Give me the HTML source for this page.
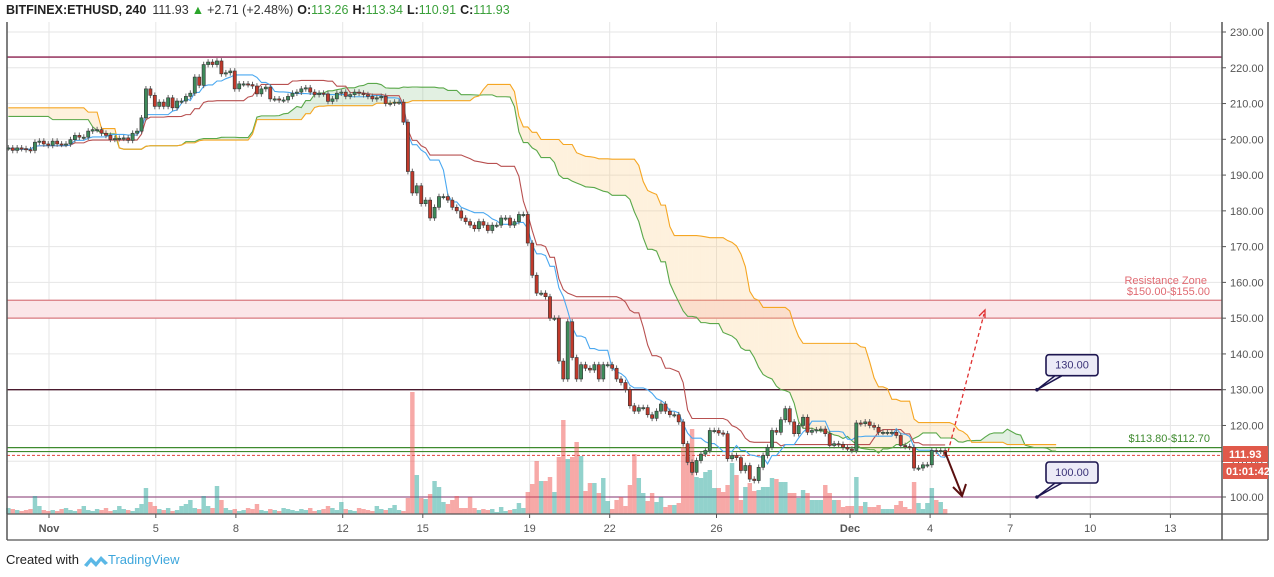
<!DOCTYPE html>
<html><head><meta charset="utf-8">
<style>
html,body{margin:0;padding:0;background:#fff;}
body{width:1274px;height:577px;overflow:hidden;font-family:"Liberation Sans",sans-serif;position:relative;}
svg{position:absolute;left:0;top:0;}
</style></head>
<body>
<svg id="chart" width="1274" height="577" viewBox="0 0 1274 577">
  <rect x="0" y="0" width="1274" height="577" fill="#fff"/>
  <g id="grid"></g>
  <g id="levels"></g>
  <g id="cloud"></g>
  <g id="volume"></g>
  <g id="lines"></g>
  <g id="candles"></g>
  <g id="annot"></g>
  <g id="axes"></g>
  <text x="6" y="14" font-size="12.5"><tspan font-weight="bold" fill="#222">BITFINEX:ETHUSD, 240</tspan><tspan fill="#333" dx="6">111.93</tspan><tspan fill="#2aa52a" dx="3">▲</tspan><tspan fill="#333" dx="3">+2.71 (+2.48%)</tspan><tspan fill="#222" dx="4" font-weight="bold">O:</tspan><tspan fill="#3aa03a">113.26</tspan><tspan fill="#222" dx="4" font-weight="bold">H:</tspan><tspan fill="#3aa03a">113.34</tspan><tspan fill="#222" dx="4" font-weight="bold">L:</tspan><tspan fill="#3aa03a">110.91</tspan><tspan fill="#222" dx="4" font-weight="bold">C:</tspan><tspan fill="#3aa03a">111.93</tspan></text>
  <g>
    <text x="6" y="564" font-size="13" fill="#222">Created with</text>
    <path d="M84 565 l7 -8 l5 5 l5 -6 l7 7 l-3 2 l-4 -4 l-5 6 l-5 -5 l-4 5 z" fill="#5bb8e6"/>
    <text x="108" y="564" font-size="13" fill="#3ca6dc">TradingView</text>
  </g>
</svg>
<script>
const closes = [
197.6,196.9,197.6,197.4,197.1,196.9,199.2,199.5,198.7,198.3,
199.5,198.7,198.6,198.7,199.9,201.1,200.6,200.6,202.3,202.7,
202.7,201.7,201.1,200,200.2,200.3,200.4,199.7,201.7,202.3,
206,214.1,212.3,209.2,210.4,209.2,211.6,208.8,210.7,210.7,
212,212.9,217.4,215.1,220.9,221.6,220.9,221.9,218.3,218.6,
219.1,214.1,215.5,215.5,215.3,214.9,212.7,214.1,214.6,211.3,
211.3,211,211,212,212.9,213.2,214.1,214.4,213.2,212.5,
212.9,212.7,210.6,211.3,212.9,213.2,212,212.5,213.2,212.9,
212.5,212,211.3,211.6,212,210,210.1,210.4,210.4,204.8,
191,185,187,182,183,178,181,184,184,183,
181,180,178,177,176,175,177,176,174.5,176,
176,178,178,176,177,179,179,171,162,157,
157,156,150,150,138,133,149,139,133,137,
136,135.5,137,133,137,137,136,133,132,130,
125.5,124,125,125,123,122,124,126,124,123,
123,121,
114.9,109.7,106.9,110.2,112,113,118.6,118.6,117.9,117.7,
110.7,111.6,111,107.4,108.8,105,104.6,108.3,111.6,113.9,
118.6,118.1,121.6,124.7,121,117.7,120,122.3,118.1,118.6,
118.8,119,117.7,114.4,114.9,114.7,113.9,113.4,113,120.7,
120.5,121,120,119.5,118.1,118.1,118.1,118.1,117.2,114.4,
114.1,113.9,108.1,108.1,109,109,113,112.8,113,111.93];
const volumes = [
6,5,4,3,4,5,18,8,4,3, 4,3,5,6,4,3,5,8,4,3, 5,4,6,3,4,8,5,4,3,6,
10,26,12,8,5,4,6,3,4,8, 10,14,6,5,18,8,6,28,14,6, 4,5,3,4,6,5,10,4,3,5,
4,3,6,5,4,3,5,4,6,3, 4,5,8,6,4,12,5,4,3,6, 5,4,3,8,5,4,6,
9,4,3,16,122,39,16,15,20,33, 27,12,10,14,18,6,6,17,6,4,
5,4,5,2,7,3,4,5,11,6, 22,30,53,33,33,37,22,57,94,55,
57,72,58,23,31,31,21,36,13,5, 14,17,8,29,60,36,21,13,21,12,
17,7,9,9,11,
67,57,85,37,36,42,44,26,26,22, 29,51,39,14,27,31,23,24,27,27,
36,35,32,32,21,21,16,24,21,14, 14,14,29,21,14,14,7,8,8,37,
8,12,7,7,9,5,5,5,9,13, 7,5,32,11,5,11,26,14,12,5];
// cloud values already projected onto the first visible candles (from earlier history)
const spanAHead = [206.4,206.4,206.4,206.4,206.4,206.4,206.4,206.4,206.4,206.4,205.5,205.5,205.5,205.5,205.5,205.5,205.5,205.5,205.5,203.5,202.5,201.8,201.5,201.5,201.5];
const spanBHead = [208.8,208.8,208.8,208.8,208.8,208.8,208.8,208.8,208.8,208.8,208.8,208.8,208.8,208.8,208.8,208.8,208.8,208.8,207.6,207.6,207.6,203,203,203,203];
const priceTicks = [100,110,120,130,140,150,160,170,180,190,200,210,220,230];
const dateLabels = ["Nov","5","8","12","15","19","22","26","Dec","4","7","10","13"];
const dateDays = [1,5,8,12,15,19,22,26,31,34,37,40,43];
const levelResistance = [150,155];
const levelSupport = [112.7,113.8];
const levelKeys = [223,130,100];
const lastPrice = 111.93;

const NS="http://www.w3.org/2000/svg";
const L=7, R=1222, T=22, B=514;
const yOf = p => 32 + (230-p)*3.577;
const xOfIdx = i => 8.3 + i*4.44;
const xOfDay = d => 49 + (d-1)*26.7;
function mk(tag, parent, attrs){const e=document.createElementNS(NS,tag);for(const k in attrs)e.setAttribute(k,attrs[k]);parent.appendChild(e);return e;}
const G=id=>document.getElementById(id);

const grid=G('grid');
priceTicks.forEach(p=>{const l=mk('line',grid,{x1:L,x2:R,y1:yOf(p),y2:yOf(p),stroke:'#e6e6e6','stroke-width':1});

});
dateDays.forEach(d=>{const l=mk('line',grid,{x1:xOfDay(d),x2:xOfDay(d),y1:T,y2:B,stroke:'#e6e6e6','stroke-width':1});

});

const lv=G('levels');
const rz=mk('rect',lv,{x:L,y:yOf(levelResistance[1]),width:R-L,height:yOf(levelResistance[0])-yOf(levelResistance[1]),fill:'#fbe6e8'});


levelResistance.forEach(p=>{mk('line',lv,{x1:L,x2:R,y1:yOf(p),y2:yOf(p),stroke:'#d97a80','stroke-width':1.2});});
const keyColors=['#8a1f4d','#4a1a2e','#9a5a8a'];
levelKeys.forEach((p,k)=>{const l=mk('line',lv,{x1:L,x2:R,y1:yOf(p),y2:yOf(p),stroke:keyColors[k],'stroke-width':1.3});

});
levelSupport.forEach(p=>{const l=mk('line',lv,{x1:L,x2:R,y1:yOf(p),y2:yOf(p),stroke:'#3e8a2e','stroke-width':1.2});

});
const pl=mk('line',lv,{x1:L,x2:R,y1:yOf(lastPrice)+1,y2:yOf(lastPrice)+1,stroke:'#e0443a','stroke-width':1,'stroke-dasharray':'3,2'});



const n=closes.length;
const opens=closes.map((c,i)=>i===0?c:closes[i-1]);
const highs=closes.map((c,i)=>Math.max(c,opens[i])+0.8);
const lows=closes.map((c,i)=>Math.min(c,opens[i])-0.8);
function mid(i,len){let h=-1e9,l=1e9;for(let j=Math.max(0,i-len+1);j<=i;j++){h=Math.max(h,highs[j]);l=Math.min(l,lows[j]);}return (h+l)/2;}
const tenkan=closes.map((c,i)=>mid(i,9));
const kijun=closes.map((c,i)=>mid(i,26));
const shift=25;
const spanA=[],spanB=[];
for(let i=0;i<shift;i++){spanA[i]=spanAHead[i];spanB[i]=spanBHead[i];}
for(let i=0;i<n;i++){spanA[i+shift]=(tenkan[i]+kijun[i])/2;spanB[i+shift]=mid(i,52);}

const cl=G('cloud');
for(let i=0;i<n+shift-1;i++){
  const a0=spanA[i],a1=spanA[i+1],b0=spanB[i],b1=spanB[i+1];
  const bear=(b0+b1)>(a0+a1);
  const pg=mk('polygon',cl,{points:`${xOfIdx(i)},${yOf(a0)} ${xOfIdx(i+1)},${yOf(a1)} ${xOfIdx(i+1)},${yOf(b1)} ${xOfIdx(i)},${yOf(b0)}`,fill:bear?'rgba(252,200,120,0.25)':'rgba(110,180,110,0.2)',stroke:'none'});
  
  
}
function poly(arr,start,end,color,name){let pts=[];for(let i=start;i<end;i++)if(arr[i]!==undefined)pts.push(xOfIdx(i)+','+yOf(arr[i]));
const p=mk('polyline',G('lines'),{points:pts.join(' '),fill:'none',stroke:color,'stroke-width':1.1});

}
poly(spanA,0,n+shift,'#5aa84a','senkou-span-a');
poly(spanB,0,n+shift,'#f5a623','senkou-span-b');
poly(kijun,0,n,'#b85050','kijun-sen');
poly(tenkan,0,n,'#4aa8f0','tenkan-sen');

const vg=G('volume'), cg=G('candles');
for(let i=0;i<n;i++){
  const x=xOfIdx(i), up=closes[i]>=opens[i];
  const vb=mk('rect',vg,{x:x-2.2,y:B-volumes[i],width:4.44,height:volumes[i],fill:up?'rgba(38,166,154,0.5)':'rgba(239,83,80,0.5)'});
  
  
  const w=mk('line',cg,{x1:x,x2:x,y1:yOf(highs[i]),y2:yOf(lows[i]),stroke:'#666','stroke-width':1});
  
  
  const top=yOf(Math.max(opens[i],closes[i])), bot=yOf(Math.min(opens[i],closes[i]));
  const body=mk('rect',cg,{x:x-1.6,y:top,width:3.2,height:Math.max(1.2,bot-top),fill:up?'#3d8a5a':'#c0392b',stroke:'#333','stroke-width':0.6});
  
  
}

const an=G('annot');
function callout(p,label){
  const g=mk('g',an,{});
  
  
  const y=yOf(p);
  mk('polygon',g,{points:`1037,${y} 1055,${y-14} 1062,${y-14}`,fill:'#ecebf7',stroke:'#1d1650','stroke-width':1.5});
  mk('rect',g,{x:1046,y:y-35,width:52,height:21,rx:3,fill:'#ecebf7',stroke:'#1d1650','stroke-width':1.6});
  mk('circle',g,{cx:1037,cy:y,r:1.8,fill:'#1d1650'});
  const t=mk('text',g,{x:1072,y:y-21,'font-size':11,fill:'#3a3278','text-anchor':'middle'});t.textContent=label;
}
callout(130,'130.00');callout(100,'100.00');
const rt=mk('text',an,{x:1207,y:284,'font-size':11,fill:'#e06a72','text-anchor':'end'});rt.textContent='Resistance Zone';


const rt2=mk('text',an,{x:1210,y:295,'font-size':11,fill:'#e06a72','text-anchor':'end'});rt2.textContent='$150.00-$155.00';


const st=mk('text',an,{x:1210,y:442,'font-size':11,fill:'#3e8a2e','text-anchor':'end'});st.textContent='$113.80-$112.70';


const a1=mk('line',an,{x1:948,y1:452,x2:984,y2:314,stroke:'#e03030','stroke-width':1.3,'stroke-dasharray':'4,3'});


mk('polyline',an,{points:'979,316 985,310 985,318',fill:'none',stroke:'#e03030','stroke-width':1.3});
const a2=mk('line',an,{x1:945,y1:452,x2:962,y2:495,stroke:'#5a1010','stroke-width':2});


mk('polyline',an,{points:'953,487 962,496 966,484',fill:'none',stroke:'#5a1010','stroke-width':2});

const ax=G('axes');
mk('rect',ax,{x:1223,y:22,width:45,height:518,fill:'#fff'});
mk('line',ax,{x1:L,x2:L,y1:T,y2:540,stroke:'#555','stroke-width':1.5});
mk('line',ax,{x1:R,x2:R,y1:T,y2:540,stroke:'#555','stroke-width':1.5});
mk('line',ax,{x1:1268,x2:1268,y1:T,y2:540,stroke:'#555','stroke-width':1.5});
mk('line',ax,{x1:L,x2:1268,y1:B,y2:B,stroke:'#555','stroke-width':1.2});
mk('line',ax,{x1:L,x2:1268,y1:540,y2:540,stroke:'#555','stroke-width':1.2});
priceTicks.forEach(p=>{
  mk('line',ax,{x1:R,x2:R+4,y1:yOf(p),y2:yOf(p),stroke:'#555'});
  const t=mk('text',ax,{x:1230,y:yOf(p)+4,'font-size':11,fill:'#555'});t.textContent=p.toFixed(2);
  
  
});
dateLabels.forEach((s,k)=>{
  const x=xOfDay(dateDays[k]);
  mk('line',ax,{x1:x,x2:x,y1:B,y2:B+4,stroke:'#555'});
  const t=mk('text',ax,{x:x,y:532,'font-size':11,fill:'#555','text-anchor':'middle','font-weight':(s==='Nov'||s==='Dec')?'bold':'normal'});t.textContent=s;
  
  
});
const pb=mk('g',ax,{});


mk('rect',pb,{x:1223,y:446,width:45,height:16,fill:'#e0594a'});
const pt=mk('text',pb,{x:1229,y:458,'font-size':11,'font-weight':'bold',fill:'#fff'});pt.textContent='111.93';
mk('rect',pb,{x:1223,y:463,width:45,height:16,fill:'#e0594a'});
const ct=mk('text',pb,{x:1226,y:475,'font-size':11,'font-weight':'bold',fill:'#fff'});ct.textContent='01:01:42';
</script>
</body></html>
